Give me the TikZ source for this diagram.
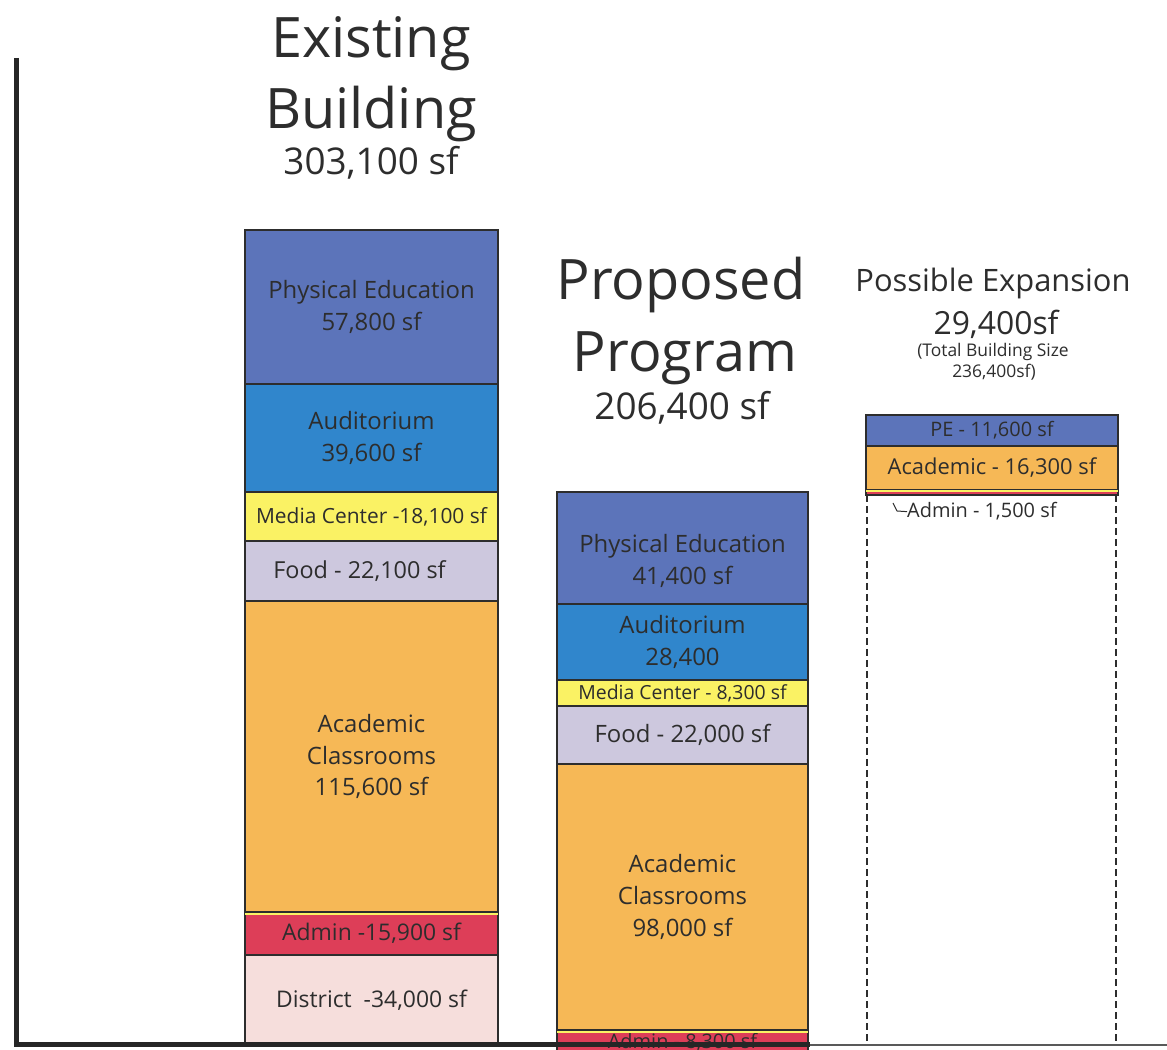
\documentclass[tikz,border=0pt]{standalone}
\usepackage{fontspec}
\setmainfont{Open Sans}
\usepackage{tikz}
\usetikzlibrary{
  positioning, % for stacking the blocks
}

\definecolor{peblue}{RGB}{92,116,186}
\definecolor{audblue}{RGB}{48,134,204}
\definecolor{mediayellow}{RGB}{250,242,100}
\definecolor{foodgray}{RGB}{205,200,222}
\definecolor{acadorange}{RGB}{246,184,86}
\definecolor{adminred}{RGB}{221,62,88}
\definecolor{districtpink}{RGB}{246,222,220}
\definecolor{inkgray}{RGB}{45,45,45}

\newcommand{\fsz}[2]{\fontsize{#1}{#2}\selectfont}

\begin{document}
\begin{tikzpicture}[x=1bp, y=1bp,
    seg/.style={draw=inkgray, line width=1.2bp, inner sep=0pt, outer sep=0pt,
      align=center, text=inkgray, font=\fsz{24}{32}},
    excol/.style={seg, minimum width=253bp},
    prcol/.style={seg, minimum width=251bp},
    xpcol/.style={seg, minimum width=252bp},
    title/.style={text=inkgray, anchor=base, inner sep=0pt},
  ]
  \clip (0,0) rectangle (1167,1050);

  % existing building
  \node[title, font=\fsz{56}{60}] (exTitleA) at (371,992) {Existing};
  \node[title, font=\fsz{56}{60}] (exTitleB) at (371,921) {Building};
  \node[title, font=\fsz{37}{40}] (exTotal) at (371,875) {303,100 sf};
  \node[excol, fill=peblue, minimum height=154bp, anchor=north west] (exPE) at (245,820)
    {Physical Education\\57,800 sf};
  \node[excol, fill=audblue, minimum height=108bp, below=0pt of exPE] (exAud)
    {Auditorium\\39,600 sf};
  \node[excol, fill=mediayellow, minimum height=49bp, below=0pt of exAud, font=\fsz{21}{24}] (exMedia)
    {Media Center -18,100 sf};
  \node[excol, fill=foodgray, minimum height=60bp, below=0pt of exMedia, font=\fsz{23.5}{28}] (exFood)
    {Food - 22,100 sf\hspace{24bp}};
  \node[excol, fill=acadorange, minimum height=311bp, below=0pt of exFood] (exAcad)
    {Academic\\Classrooms\\115,600 sf};
  \node[excol, fill=adminred, minimum height=43bp, below=0pt of exAcad, font=\fsz{23}{28}] (exAdmin)
    {Admin -15,900 sf};
  \node[excol, fill=districtpink, minimum height=90bp, below=0pt of exAdmin, font=\fsz{23}{28}] (exDistrict)
    {District ~-34,000 sf};
  \draw[mediayellow, line width=2bp] ([yshift=-1.5bp]exAdmin.north west) -- ([yshift=-1.5bp]exAdmin.north east);

  % proposed program
  \node[title, font=\fsz{56}{60}] (prTitleA) at (681,750) {Proposed};
  \node[title, font=\fsz{56}{60}] (prTitleB) at (685,678) {Program};
  \node[title, font=\fsz{37}{40}] (prTotal) at (682,630) {206,400 sf};
  \node[prcol, fill=peblue, minimum height=112bp, anchor=north west] (prPE) at (557,558)
    {\mbox{}\\[12bp]Physical Education\\41,400 sf};
  \node[prcol, fill=audblue, minimum height=76bp, below=0pt of prPE] (prAud)
    {Auditorium\\28,400};
  \node[prcol, fill=mediayellow, minimum height=26bp, below=0pt of prAud, font=\fsz{19.5}{22}] (prMedia)
    {Media Center - 8,300 sf};
  \node[prcol, fill=foodgray, minimum height=58bp, below=0pt of prMedia, font=\fsz{24}{28}] (prFood)
    {Food - 22,000 sf};
  \node[prcol, fill=acadorange, minimum height=266bp, below=0pt of prFood] (prAcad)
    {Academic\\Classrooms\\98,000 sf};
  \node[prcol, fill=adminred, minimum height=24bp, below=0pt of prAcad, font=\fsz{20}{24}] (prAdmin)
    {Admin - 8,300 sf};
  \draw[mediayellow, line width=2bp] ([yshift=-1.5bp]prAdmin.north west) -- ([yshift=-1.5bp]prAdmin.north east);

  % possible expansion
  \node[title, font=\fsz{31}{36}] (xpTitle) at (993,758) {Possible Expansion};
  \node[title, font=\fsz{32}{36}] (xpTotal) at (996,715) {29,400sf};
  \node[title, font=\fsz{17.5}{20}] (xpNoteA) at (993,693) {(Total Building Size};
  \node[title, font=\fsz{17.5}{20}] (xpNoteB) at (994,672) {236,400sf)};
  \node[xpcol, fill=peblue, minimum height=31bp, anchor=north west, font=\fsz{20}{22}] (xpPE) at (866,635)
    {PE - 11,600 sf};
  \node[xpcol, fill=acadorange, minimum height=44bp, below=0pt of xpPE, font=\fsz{22}{26}] (xpAcad)
    {Academic - 16,300 sf};
  \node[xpcol, fill=adminred, minimum height=5bp, below=0pt of xpAcad] (xpAdmin) {};
  \draw[mediayellow, line width=1.5bp] ([yshift=-1bp]xpAdmin.north west) -- ([yshift=-1bp]xpAdmin.north east);
  \node[text=inkgray, inner sep=0pt, anchor=base west, font=\fsz{20}{24}] (xpAdminLbl) at (907,532)
    {Admin - 1,500 sf};
  \coordinate (xpTick) at (893,547);
  \draw[inkgray, line width=1bp] (xpTick) -- ++(4,-8) -- (xpAdminLbl.west);
  \coordinate (xpFootL) at (867,5);
  \coordinate (xpFootR) at (1116,5);
  \draw[inkgray, line width=2.2bp, dash pattern=on 7bp off 4bp] (xpAdmin.south west -| xpFootL) -- (xpFootL);
  \draw[inkgray, line width=2.2bp, dash pattern=on 7bp off 4bp] (xpAdmin.south east -| xpFootR) -- (xpFootR);

  % axes
  \coordinate (axisTop) at (16,992);
  \coordinate (axisOrigin) at (16,5);
  \coordinate (axisMid) at (810,5);
  \coordinate (axisEnd) at (1167,5);
  \draw[black!65, line width=1.5bp] (axisMid) -- (axisEnd);
  \draw[black!85, line width=5bp] (axisTop) -- (axisOrigin) -- (axisMid);
\end{tikzpicture}
\end{document}
